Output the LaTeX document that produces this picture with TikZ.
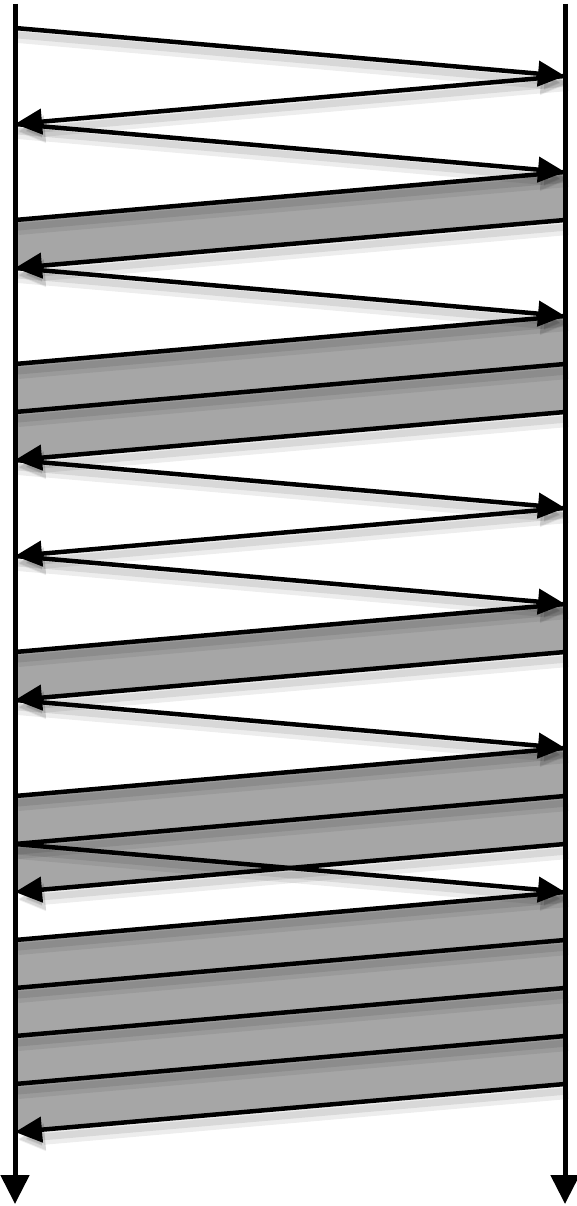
\documentclass[tikz,border=0pt]{standalone}
\usetikzlibrary{arrows.meta}
\definecolor{bandgray}{gray}{0.65}

\begin{document}
\begin{tikzpicture}[x=1pt, y=-1pt,
    shadowed/.style={
      preaction={draw=black, opacity=0.07, line width=14pt, transform canvas={xshift=3pt, yshift=-8pt}},
      preaction={draw=black, opacity=0.09, line width=7pt, transform canvas={xshift=3pt, yshift=-7pt}}},
    msg/.style={shadowed, line width=4.5pt, -{Triangle[length=27pt, width=25pt]}},
    edge/.style={shadowed, line width=4.5pt},
    timeline/.style={line width=5pt, -{Triangle[length=29pt, width=28pt]}},
    band/.style={fill=bandgray}]
  \useasboundingbox (0,0) rectangle (577,1206);

  % Zeitpunkte auf beiden Achsen
  \foreach \k in {0,...,23}{
    \coordinate (l\k) at (15,28+48*\k);
    \coordinate (r\k) at (565,28+48*\k);
  }
  \coordinate (ltop) at (15,4);
  \coordinate (lbot) at (15,1204);
  \coordinate (rtop) at (565,4);
  \coordinate (rbot) at (565,1204);

  % graue Datenbloecke
  \fill[band] (r3) -- (r4) -- (l5) -- (l4) -- cycle;
  \fill[band] (r6) -- (r8) -- (l9) -- (l7) -- cycle;
  \fill[band] (r12) -- (r13) -- (l14) -- (l13) -- cycle;
  \fill[band] (r15) -- (r17) -- (l18) -- (l16) -- cycle;
  \fill[band] (r18) -- (r22) -- (l23) -- (l19) -- cycle;

  % Zeitachsen
  \draw[timeline] (ltop) -- (lbot);
  \draw[timeline] (rtop) -- (rbot);

  % Kanten der Bloecke
  \draw[edge] (l4) -- (r3);
  \draw[edge] (l7) -- (r6);
  \draw[edge] (l8) -- (r7);
  \draw[edge] (l13) -- (r12);
  \draw[edge] (l16) -- (r15);
  \draw[edge] (l17) -- (r16);
  \foreach \k in {19,...,22}{
    \pgfmathtruncatemacro{\j}{\k-1}
    \draw[edge] (l\k) -- (r\j);
  }

  % Nachrichten nach rechts
  \draw[msg] (l0) -- (r1);
  \draw[msg] (l2) -- (r3);
  \draw[msg] (l5) -- (r6);
  \draw[msg] (l9) -- (r10);
  \draw[msg] (l11) -- (r12);
  \draw[msg] (l14) -- (r15);
  \draw[msg] (l17) -- (r18);

  % Nachrichten nach links
  \draw[msg] (r1) -- (l2);
  \draw[msg] (r4) -- (l5);
  \draw[msg] (r8) -- (l9);
  \draw[msg] (r10) -- (l11);
  \draw[msg] (r13) -- (l14);
  \draw[msg] (r17) -- (l18);
  \draw[msg] (r22) -- (l23);
\end{tikzpicture}
\end{document}
